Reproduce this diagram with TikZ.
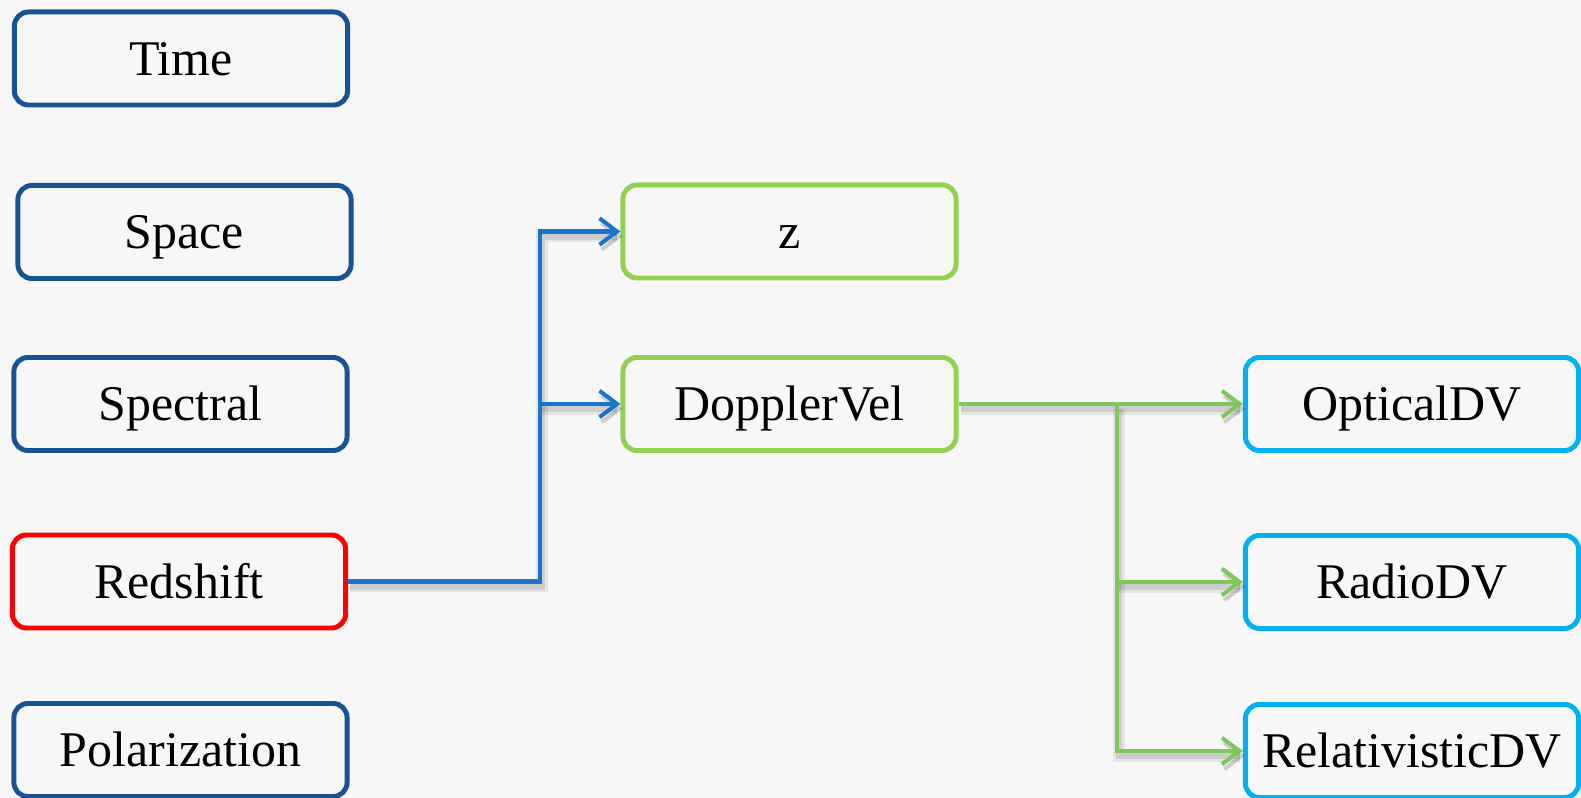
\documentclass[tikz,border=0pt]{standalone}
\usepackage{fontspec}
\setmainfont{Liberation Serif}
\usetikzlibrary{arrows.meta}

\definecolor{framedark}{RGB}{22,84,148}
\definecolor{framered}{RGB}{255,0,0}
\definecolor{framegreen}{RGB}{146,208,80}
\definecolor{framecyan}{RGB}{0,176,240}
\definecolor{linkblue}{RGB}{24,116,205}
\definecolor{linkgreen}{RGB}{124,200,92}
\definecolor{paper}{RGB}{247,247,247}

\tikzset{
	frame/.style = {draw, line width = 1.4pt, rounded corners = 4pt, fill = white, fill opacity = 0,
		text opacity = 1, minimum width = 3.33cm, minimum height = 0.93cm, inner sep = 0pt,
		font = \fontsize{14.2pt}{16pt}\selectfont, text height = 12.4pt, text depth = 3pt},
	darkframe/.style = {frame, draw = framedark},
	redframe/.style = {frame, draw = framered},
	greenframe/.style = {frame, draw = framegreen},
	cyanframe/.style = {frame, draw = framecyan},
	link/.style = {line width = 1.15pt, -{Straight Barb[length = 5pt, width = 7.5pt, line width = 1.15pt]},
		preaction = {draw = black, draw opacity = 0.07, line width = 3.4pt,
			transform canvas = {shift = {(0.6pt, -1.4pt)}}},
		preaction = {draw = black, draw opacity = 0.1, line width = 1.8pt,
			transform canvas = {shift = {(0.6pt, -1.4pt)}}}},
	bluelink/.style = {link, draw = linkblue},
	greenlink/.style = {link, draw = linkgreen}
}

\begin{document}
\begin{tikzpicture}[x = 0.01cm, y = -0.01cm]
	\fill[paper] (0, 0) rectangle (1581, 798);
	\useasboundingbox (0, 0) rectangle (1581, 798);

	\node[darkframe] (time) at (181, 58.5) {Time};
	\node[darkframe] (space) at (184.5, 232) {Space};
	\node[darkframe] (spectral) at (180.5, 404) {Spectral};
	\node[redframe] (redshift) at (179, 581.5) {Redshift};
	\node[darkframe] (polarization) at (180.5, 750) {Polarization};

	\node[greenframe] (z) at (789.5, 231.5) {z};
	\node[greenframe] (dopplervel) at (789.5, 404) {DopplerVel};

	\node[cyanframe] (opticaldv) at (1412, 404) {OpticalDV};
	\node[cyanframe] (radiodv) at (1412, 582) {RadioDV};
	\node[cyanframe] (relativisticdv) at (1412, 751) {RelativisticDV};

	\coordinate (bfork) at (540, 404);
	\coordinate (gfork) at (1117, 404);

	\draw[bluelink] (redshift.east) -| (bfork) |- (z.west);
	\draw[bluelink] (bfork) -- (dopplervel.west);

	\draw[greenlink] (dopplervel.east) -- (opticaldv.west);
	\draw[greenlink] (gfork) |- (relativisticdv.west);
	\draw[greenlink] (gfork |- radiodv.west) -- (radiodv.west);
\end{tikzpicture}
\end{document}
